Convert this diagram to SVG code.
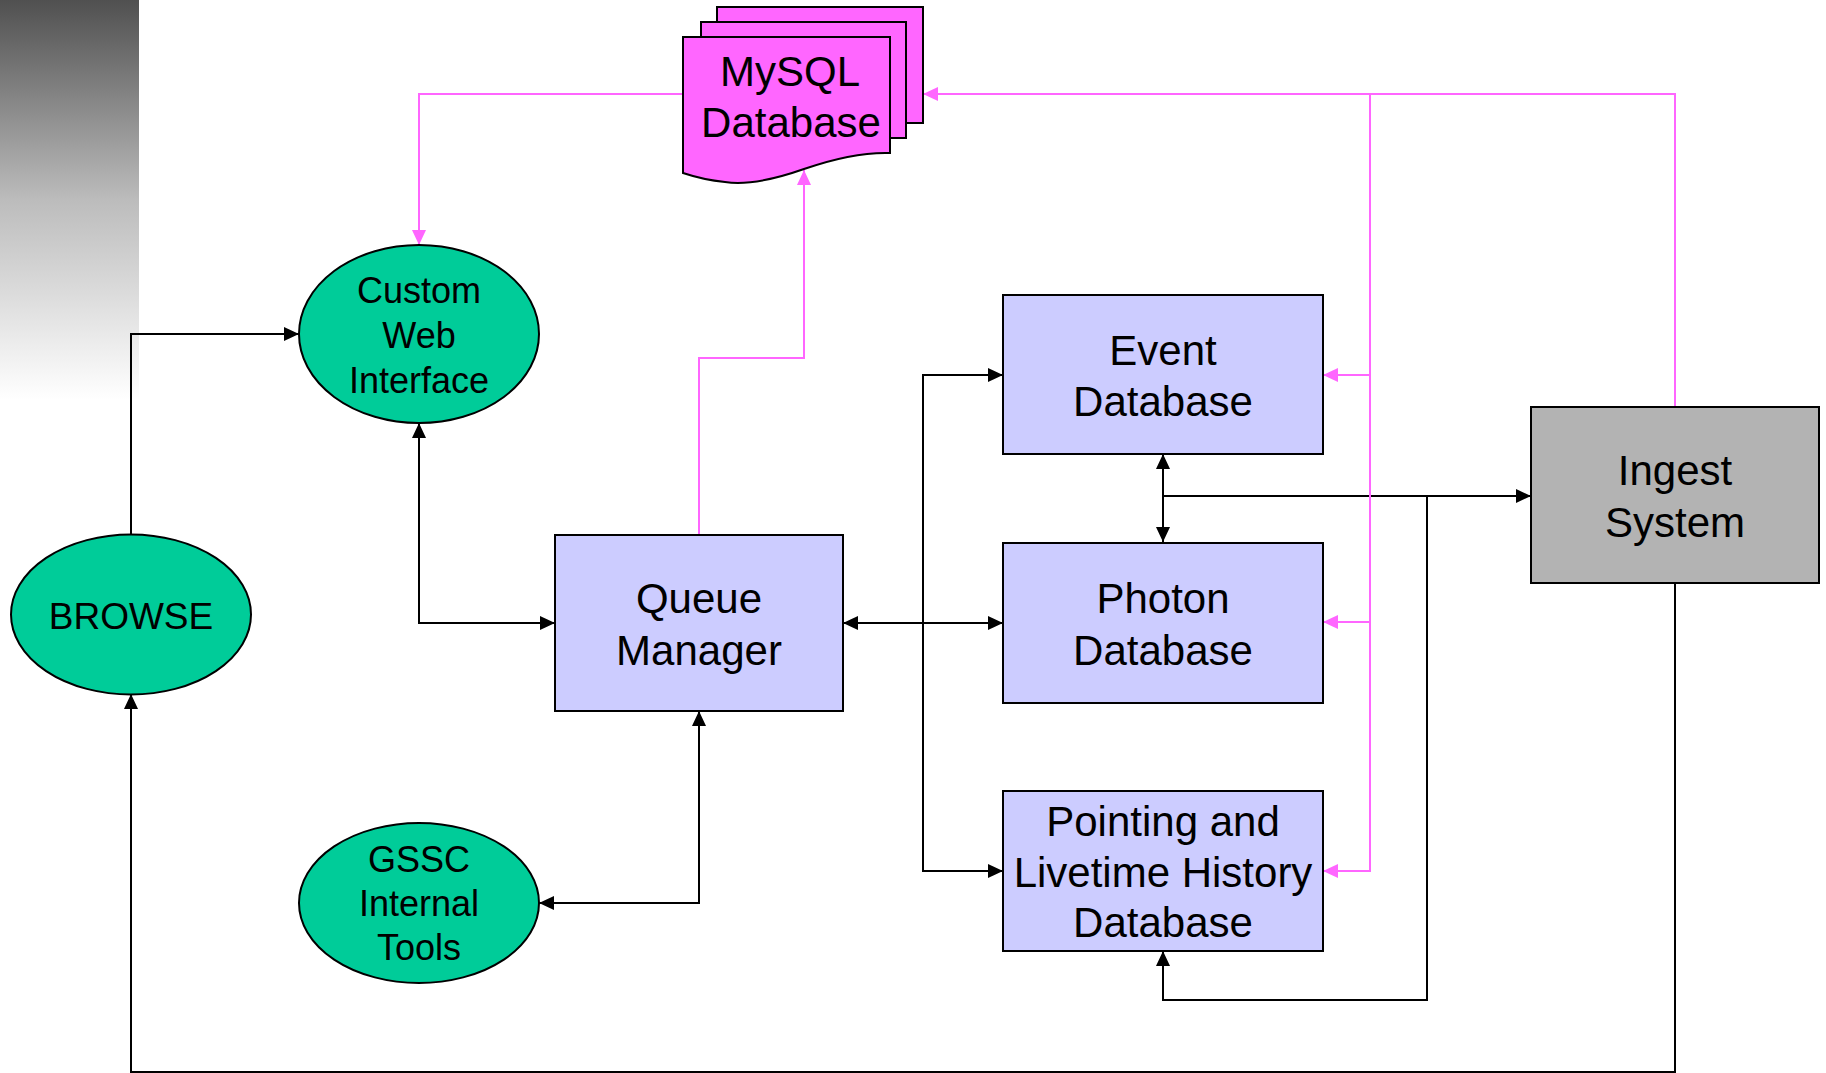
<svg xmlns="http://www.w3.org/2000/svg" width="1826" height="1073" viewBox="0 0 1826 1073">
<style>
  .ell { fill: #00cc99; stroke: #000; stroke-width: 2; }
  .box { fill: #ccccff; stroke: #000; stroke-width: 2; }
  .ing { fill: #b3b3b3; stroke: #000; stroke-width: 2; }
  .db { fill: #ff66ff; stroke: #000; stroke-width: 2; }
  .t { font-family: "Liberation Sans", Arial, sans-serif; fill: #000; text-anchor: middle; }
  .t42 { font-size: 42px; }
  .t36 { font-size: 36px; }
  .blk { fill: none; stroke: #000; stroke-width: 2; }
  .pnk { fill: none; stroke: #ff66ff; stroke-width: 2; }
</style>
<defs>
  <linearGradient id="grad" x1="0" y1="0" x2="0" y2="1">
    <stop offset="0" stop-color="#505050"/>
    <stop offset="0.5" stop-color="#bcbcbc"/>
    <stop offset="1" stop-color="#ffffff"/>
  </linearGradient>
  <marker id="ab" markerUnits="userSpaceOnUse" markerWidth="16" markerHeight="14" refX="15" refY="7" orient="auto-start-reverse">
    <path d="M0,0 L15,7 L0,14 z" fill="#000"/>
  </marker>
  <marker id="ap" markerUnits="userSpaceOnUse" markerWidth="16" markerHeight="14" refX="15" refY="7" orient="auto-start-reverse">
    <path d="M0,0 L15,7 L0,14 z" fill="#ff66ff"/>
  </marker>
</defs>
<rect width="1826" height="1073" fill="#fff"/>
<rect x="0" y="0" width="139" height="400" fill="url(#grad)"/>

<g id="connectors">
  <path class="blk" d="M131,535 V334 H299" marker-end="url(#ab)"/>
  <path class="blk" d="M419,423 V623 H555" marker-start="url(#ab)" marker-end="url(#ab)"/>
  <path class="blk" d="M843,623 H1003" marker-start="url(#ab)" marker-end="url(#ab)"/>
  <path class="blk" d="M1003,375 H923 V871 H1003" marker-start="url(#ab)" marker-end="url(#ab)"/>
  <path class="blk" d="M1163,454 V542" marker-start="url(#ab)" marker-end="url(#ab)"/>
  <path class="blk" d="M1163,496 H1531" marker-end="url(#ab)"/>
  <path class="blk" d="M1427,496 V1000 H1163 V951" marker-end="url(#ab)"/>
  <path class="blk" d="M699,711 V903 H539" marker-start="url(#ab)" marker-end="url(#ab)"/>
  <path class="blk" d="M1675,583 V1072 H131 V694" marker-end="url(#ab)"/>
  <path class="pnk" d="M683,94 H419 V245" marker-end="url(#ap)"/>
  <path class="pnk" d="M699,535 V358 H804 V170" marker-end="url(#ap)"/>
  <path class="pnk" d="M1675,407 V94 H923" marker-end="url(#ap)"/>
  <path class="pnk" d="M1370,94 V871 H1323" marker-end="url(#ap)"/>
  <path class="pnk" d="M1370,375 H1323" marker-end="url(#ap)"/>
  <path class="pnk" d="M1370,622 H1323" marker-end="url(#ap)"/>
</g>

<g id="mysql">
  <rect class="db" x="717" y="7" width="206" height="116"/>
  <rect class="db" x="701" y="22" width="205" height="116"/>
  <path class="db" d="M683,37 H890 V153 C860,152 830,160 804,169 C770,181 745,185 725,182 C705,180 695,177 683,173 Z"/>
  <text class="t t42" x="790" y="86">MySQL</text>
  <text class="t t42" x="791" y="137">Database</text>
</g>

<g id="custom-web">
  <ellipse class="ell" cx="419" cy="334" rx="120" ry="89"/>
  <text class="t t36" x="419" y="303">Custom</text>
  <text class="t t36" x="419" y="348">Web</text>
  <text class="t t36" x="419" y="393">Interface</text>
</g>

<g id="browse">
  <ellipse class="ell" cx="131" cy="614.5" rx="120" ry="80"/>
  <text class="t" style="font-size:37px" x="131" y="629">BROWSE</text>
</g>

<g id="queue">
  <rect class="box" x="555" y="535" width="288" height="176"/>
  <text class="t t42" x="699" y="613">Queue</text>
  <text class="t t42" x="699" y="665">Manager</text>
</g>

<g id="gssc">
  <ellipse class="ell" cx="419" cy="903" rx="120" ry="80"/>
  <text class="t t36" x="419" y="872">GSSC</text>
  <text class="t t36" x="419" y="916">Internal</text>
  <text class="t t36" x="419" y="960">Tools</text>
</g>

<g id="event-db">
  <rect class="box" x="1003" y="295" width="320" height="159"/>
  <text class="t t42" x="1163" y="365">Event</text>
  <text class="t t42" x="1163" y="416">Database</text>
</g>

<g id="photon-db">
  <rect class="box" x="1003" y="543" width="320" height="160"/>
  <text class="t t42" x="1163" y="613">Photon</text>
  <text class="t t42" x="1163" y="665">Database</text>
</g>

<g id="pointing-db">
  <rect class="box" x="1003" y="791" width="320" height="160"/>
  <text class="t t42" x="1163" y="836">Pointing and</text>
  <text class="t t42" x="1163" y="887">Livetime History</text>
  <text class="t t42" x="1163" y="937">Database</text>
</g>

<g id="ingest">
  <rect class="ing" x="1531" y="407" width="288" height="176"/>
  <text class="t" style="font-size:42px" x="1675" y="485">Ingest</text>
  <text class="t" style="font-size:42px" x="1675" y="537">System</text>
</g>
</svg>
